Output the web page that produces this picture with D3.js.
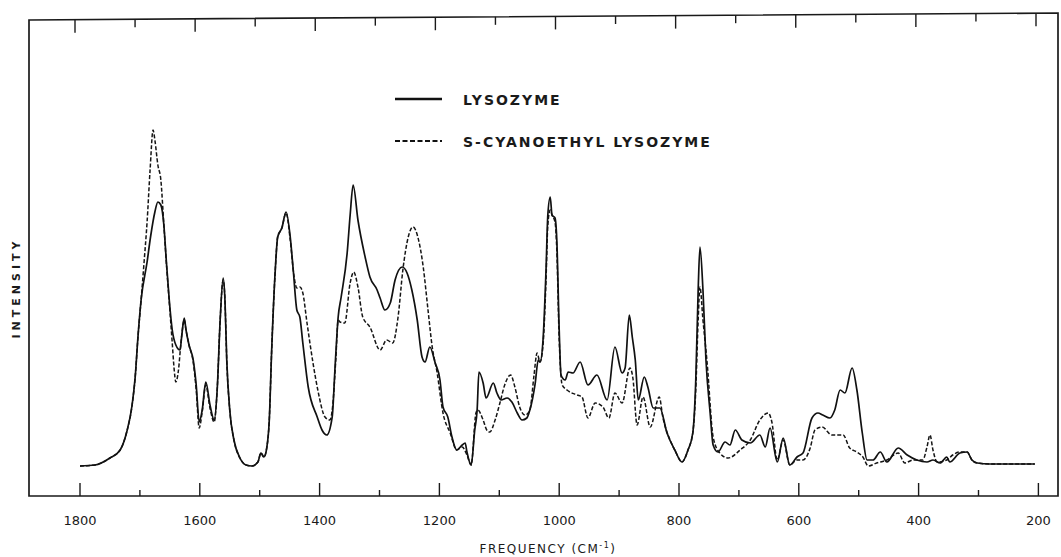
<!DOCTYPE html>
<html>
<head>
<meta charset="utf-8">
<script src="https://cdn.jsdelivr.net/npm/d3@7/dist/d3.min.js"></script>
<style>
  html, body { margin: 0; padding: 0; background: #fff; }
  svg { display: block; }
  text { font-family: "DejaVu Sans", "Liberation Sans", sans-serif; fill: #1a1a1a; }
</style>
</head>
<body>
<svg id="chart" width="1061" height="557"></svg>
<script>
// Raman spectra: frequency (cm^-1) and relative intensity (arbitrary units)
const lysozymeFreq = [1800,1775,1750,1733,1722,1713,1708,1703,1698,1688,1682,1675,1670,1665,1660,1656,1651,1646,1640,1633,1630,1626,1623,1618,1611,1606,1601,1596,1590,1583,1576,1571,1566,1561,1558,1555,1550,1543,1533,1523,1513,1503,1498,1493,1488,1484,1480,1474,1470,1463,1456,1449,1444,1438,1433,1428,1419,1404,1396,1388,1379,1374,1369,1364,1354,1349,1344,1336,1324,1316,1304,1299,1291,1282,1274,1262,1254,1246,1237,1229,1224,1216,1207,1199,1194,1186,1179,1171,1162,1157,1154,1147,1141,1137,1134,1127,1122,1110,1104,1097,1087,1079,1070,1062,1054,1049,1040,1035,1032,1027,1022,1019,1015,1012,1007,1004,1000,997,990,985,977,965,952,937,920,907,895,890,883,878,873,868,858,852,843,832,820,807,795,785,777,772,768,765,760,755,748,743,735,723,715,706,695,681,665,656,648,636,626,615,603,593,578,568,560,548,540,531,523,511,503,494,486,476,464,453,434,419,403,386,376,364,353,348,331,319,311,302,281,247,206];
const lysozymeInt = [0.0,0.1,0.8,1.6,3.4,6.1,8.8,13.1,16.6,20.4,23.0,25.4,26.4,26.1,24.1,20.6,16.6,13.6,12.1,11.6,13.1,14.8,13.6,12.1,10.6,8.1,4.4,5.6,8.4,6.1,4.6,7.6,14.6,18.8,16.6,10.6,5.6,2.6,0.8,0.1,0.0,0.4,1.3,0.9,1.9,4.6,11.6,19.6,22.9,23.8,25.4,22.9,19.6,15.6,14.9,12.3,7.9,4.9,3.6,3.1,4.9,10.1,14.9,16.9,21.3,25.1,28.1,24.6,20.9,18.9,17.6,16.8,15.6,16.3,18.6,19.9,19.3,17.6,14.6,10.9,10.4,11.9,10.3,8.6,5.9,4.9,2.9,1.6,2.1,2.3,1.4,0.1,3.6,5.6,9.4,8.3,6.8,8.3,7.3,6.6,6.8,6.4,5.3,4.6,4.8,5.6,8.3,10.6,10.4,12.6,19.6,25.1,26.9,25.1,24.8,22.6,13.6,9.1,8.6,9.4,9.3,10.4,8.1,9.1,6.6,11.9,9.3,9.8,15.1,12.9,10.6,6.6,8.9,7.9,5.8,5.8,3.3,1.6,0.4,1.6,3.3,8.6,17.6,21.9,17.6,10.6,5.3,2.1,1.4,2.4,2.1,3.6,2.6,2.3,3.1,1.9,3.8,0.4,2.8,0.1,0.9,1.3,4.8,5.3,5.1,4.8,5.6,7.6,7.3,9.8,7.6,3.3,0.6,0.6,1.4,0.4,1.8,1.1,0.6,0.4,0.6,0.3,0.9,0.4,1.3,1.4,0.6,0.3,0.2,0.2,0.2];

const cyanoFreq = [1800,1775,1750,1733,1722,1713,1708,1703,1698,1693,1688,1683,1678,1675,1670,1665,1660,1655,1650,1646,1643,1640,1636,1631,1626,1623,1618,1611,1606,1601,1596,1590,1583,1576,1571,1566,1561,1558,1555,1550,1543,1533,1523,1513,1503,1498,1493,1488,1484,1480,1474,1470,1463,1456,1449,1443,1438,1433,1428,1421,1411,1403,1391,1383,1378,1373,1369,1366,1358,1349,1343,1336,1328,1316,1299,1288,1278,1269,1261,1252,1244,1236,1227,1219,1212,1204,1194,1182,1171,1162,1154,1147,1139,1136,1127,1121,1116,1107,1099,1091,1081,1074,1066,1057,1049,1042,1037,1032,1027,1022,1019,1015,1012,1007,1004,1000,995,987,970,962,952,940,927,917,907,895,882,877,870,860,848,833,827,815,807,795,785,777,772,768,765,760,753,743,732,718,698,681,665,651,645,636,626,615,603,593,581,573,561,545,526,515,503,493,484,470,453,434,423,409,393,386,381,376,369,353,343,331,319,311,302,281,247,206];
const cyanoInt = [0.0,0.1,0.8,1.6,3.4,6.1,8.8,13.1,16.6,20.4,24.4,29.6,33.6,32.6,30.1,28.6,24.1,19.6,15.6,12.3,9.8,8.4,9.4,12.6,14.6,13.6,12.1,10.4,7.6,3.8,5.4,8.1,5.8,4.4,7.6,14.6,18.6,16.6,10.6,5.6,2.6,0.8,0.1,0.0,0.4,1.3,0.9,1.9,4.6,11.6,19.6,22.9,23.8,25.3,22.6,19.1,17.8,17.9,17.3,14.3,10.3,7.6,4.9,4.6,6.1,10.6,14.6,14.4,14.3,18.3,19.4,17.9,14.9,13.9,11.6,12.6,12.3,14.9,19.6,22.9,23.9,22.9,19.9,15.6,11.9,9.4,5.3,3.3,1.6,1.9,1.1,0.1,5.3,5.6,4.6,3.6,3.4,4.6,6.3,8.1,9.1,7.9,5.9,5.1,5.6,9.1,11.3,10.4,12.1,18.6,24.1,25.6,25.1,24.4,21.6,12.6,8.1,7.6,7.1,6.9,4.8,6.3,5.9,4.8,7.3,6.3,9.8,8.8,4.1,6.9,3.9,6.9,4.9,2.6,1.6,0.4,1.6,3.3,7.6,14.6,17.9,14.6,10.3,2.9,1.3,0.8,1.6,2.6,4.6,5.3,4.4,0.6,2.6,0.1,0.6,0.6,1.8,3.6,3.9,3.1,3.1,1.8,1.4,0.9,0.0,0.3,0.6,1.3,0.3,0.6,0.6,1.9,3.1,1.6,0.4,0.6,1.1,1.4,1.4,0.6,0.3,0.2,0.2,0.2];

const majorTicks = [1800, 1600, 1400, 1200, 1000, 800, 600, 400, 200];
const minorTicks = [1700, 1500, 1300, 1100, 900, 700, 500, 300];
const topTicks = [1800, 1700, 1600, 1500, 1400, 1300, 1200, 1100, 1000, 900, 800, 700, 600, 500, 400, 300, 200];

const legendLabels = ["LYSOZYME", "S-CYANOETHYL LYSOZYME"];

const svg = d3.select("#chart");

// Scales: frequency runs right-to-left, intensity baseline near the bottom
const x = d3.scaleLinear().domain([1800, 200]).range([80, 1038.4]);
const xTop = d3.scaleLinear().domain([1800, 200]).range([75, 1036]);
const y = d3.scaleLinear().domain([0, 34]).range([466, 126]);

// Frame
const frame = { left: 29, right: 1058, topLeft: 20, topRight: 13, bottom: 496 };
svg.append("path")
  .attr("d", `M${frame.left},${frame.topLeft} L${frame.right},${frame.topRight} L${frame.right},${frame.bottom} L${frame.left},${frame.bottom} Z`)
  .attr("fill", "none")
  .attr("stroke", "#1a1a1a")
  .attr("stroke-width", 1.7);

// Bottom ticks: long at every 200, short at odd hundreds
const bottomAxis = svg.append("g");
bottomAxis.selectAll("line.major").data(majorTicks).join("line")
  .attr("class", "major")
  .attr("x1", d => x(d)).attr("x2", d => x(d))
  .attr("y1", frame.bottom).attr("y2", frame.bottom - 13)
  .attr("stroke", "#1a1a1a").attr("stroke-width", 1.4);
bottomAxis.selectAll("line.minor").data(minorTicks).join("line")
  .attr("class", "minor")
  .attr("x1", d => x(d)).attr("x2", d => x(d))
  .attr("y1", frame.bottom).attr("y2", frame.bottom - 6)
  .attr("stroke", "#1a1a1a").attr("stroke-width", 1.4);
bottomAxis.selectAll("text").data(majorTicks).join("text")
  .attr("x", d => x(d)).attr("y", 525)
  .attr("text-anchor", "middle")
  .attr("font-size", 13)
  .text(d => d);

// Top ticks hang down from the slanted upper edge
const topEdge = px => frame.topLeft + (frame.topRight - frame.topLeft) * (px - frame.left) / (frame.right - frame.left);
svg.append("g").selectAll("line").data(topTicks).join("line")
  .attr("x1", d => xTop(d)).attr("x2", d => xTop(d))
  .attr("y1", d => topEdge(xTop(d)))
  .attr("y2", (d, i) => topEdge(xTop(d)) + (i % 2 === 0 ? 13 : 8))
  .attr("stroke", "#1a1a1a").attr("stroke-width", 1.4);

// Axis titles
const xTitle = svg.append("text")
  .attr("x", 548).attr("y", 553)
  .attr("text-anchor", "middle")
  .attr("font-size", 12)
  .attr("letter-spacing", 1.5);
xTitle.append("tspan").text("FREQUENCY (CM");
xTitle.append("tspan").attr("font-size", 8).attr("dy", -5).text("-1");
xTitle.append("tspan").attr("dy", 5).text(")");

svg.append("text")
  .attr("transform", "translate(20,288) rotate(-90)")
  .attr("text-anchor", "middle")
  .attr("font-size", 11)
  .attr("font-weight", "bold")
  .attr("letter-spacing", 4)
  .text("INTENSITY");

// Spectra
const line = d3.line()
  .x(d => x(d[0]))
  .y(d => y(d[1]))
  .curve(d3.curveMonotoneX);

const lysozyme = lysozymeFreq.map((f, i) => [f, lysozymeInt[i]]);
const cyano = cyanoFreq.map((f, i) => [f, cyanoInt[i]]);

svg.append("path")
  .datum(cyano)
  .attr("d", line)
  .attr("fill", "none")
  .attr("stroke", "#151515")
  .attr("stroke-width", 1.5)
  .attr("stroke-dasharray", "4,2");

svg.append("path")
  .datum(lysozyme)
  .attr("d", line)
  .attr("fill", "none")
  .attr("stroke", "#111")
  .attr("stroke-width", 1.7);

// Legend
const legend = svg.append("g");
const legendRows = [
  { label: legendLabels[0], y: 99, dash: null, width: 2.6 },
  { label: legendLabels[1], y: 141, dash: "5,2.5", width: 2.0 }
];
legendRows.forEach(r => {
  legend.append("line")
    .attr("x1", 395).attr("x2", 442)
    .attr("y1", r.y).attr("y2", r.y)
    .attr("stroke", "#111")
    .attr("stroke-width", r.width)
    .attr("stroke-dasharray", r.dash);
  legend.append("text")
    .attr("x", 463).attr("y", r.y + 5.5)
    .attr("font-size", 14)
    .attr("font-weight", "bold")
    .attr("letter-spacing", 2)
    .text(r.label);
});
</script>
</body>
</html>
